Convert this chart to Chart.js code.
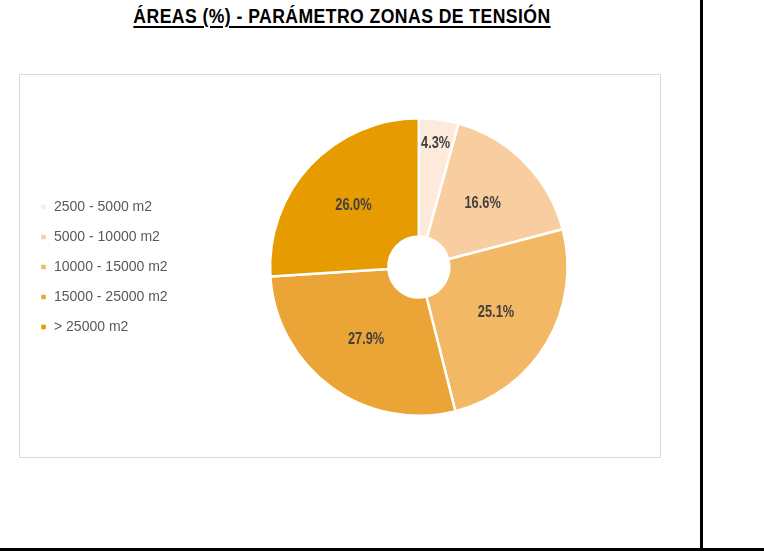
<!DOCTYPE html>
<html>
<head>
<meta charset="utf-8">
<script src="https://cdn.jsdelivr.net/npm/chart.js@4/dist/chart.umd.min.js"></script>
<style>
  html, body { margin: 0; padding: 0; background: #fff; }
  #page { position: relative; width: 764px; height: 558px; overflow: hidden; }
  #title {
    position: absolute; left: 0; top: 5px; width: 684px; text-align: center;
    font-family: "Liberation Sans Narrow", "Arial Narrow", "Liberation Sans", sans-serif;
    font-weight: bold; font-size: 20px; letter-spacing: 0.5px; color: #000;
    transform: scaleX(0.88); transform-origin: 342px 0;
  }
  #title span { text-decoration: underline; text-underline-offset: 3px; }
  #box {
    position: absolute; left: 19px; top: 74px; width: 640px; height: 382px;
    border: 1px solid #d9d9d9;
  }
  #vline { position: absolute; left: 700px; top: 0; width: 2.5px; height: 551px; background: #000; }
  #hline { position: absolute; left: 0; top: 548px; width: 764px; height: 3px; background: #000; }
</style>
</head>
<body>
<div id="page">
  <div id="title"><span>ÁREAS (%) - PARÁMETRO ZONAS DE TENSIÓN</span></div>
  <div id="box"><canvas id="chart" width="640" height="382"></canvas></div>
  <div id="vline"></div>
  <div id="hline"></div>
</div>
<script>
// data
const categories = ['2500 - 5000 m2', '5000 - 10000 m2', '10000 - 15000 m2', '15000 - 25000 m2', '> 25000 m2'];
const shares = [4.3, 16.6, 25.1, 27.9, 26.0];
const sliceColors = ['#fdeada', '#f8cea0', '#f2b866', '#eba536', '#e69b00'];

// percentage labels drawn on the slices (condensed bold look)
const sliceLabels = {
    id: 'sliceLabels',
    afterDatasetsDraw(chart) {
        const ctx = chart.ctx;
        const meta = chart.getDatasetMeta(0);
        meta.data.forEach(function(arc, i) {
            const p = arc.getProps(['x', 'y', 'startAngle', 'endAngle', 'innerRadius', 'outerRadius'], true);
            const mid = (p.startAngle + p.endAngle) / 2;
            // small slices get their label pushed out towards the rim
            const r = shares[i] < 5 ? p.outerRadius * 0.84 : (p.innerRadius + p.outerRadius) / 2;
            const x = p.x + Math.cos(mid) * r;
            const y = p.y + Math.sin(mid) * r;
            ctx.save();
            ctx.translate(x, y);
            ctx.scale(0.8, 1);
            ctx.font = 'bold 16px "Liberation Sans", Arial, sans-serif';
            ctx.fillStyle = '#404040';
            ctx.textAlign = 'center';
            ctx.textBaseline = 'middle';
            ctx.fillText(shares[i].toFixed(1) + '%', 0, 0);
            ctx.restore();
        });
    }
};

new Chart(document.getElementById('chart'), {
    type: 'doughnut',
    data: {
        labels: categories,
        datasets: [{
            data: shares,
            backgroundColor: sliceColors,
            borderColor: '#ffffff',
            borderWidth: 2.5
        }]
    },
    options: {
        responsive: false,
        animation: false,
        cutout: '20.5%',
        layout: { padding: { left: 4, right: 0, top: 42, bottom: 40 } },
        plugins: {
            legend: {
                position: 'left',
                labels: {
                    boxWidth: 7,
                    boxHeight: 7,
                    padding: 16,
                    color: '#595959',
                    font: { family: '"Liberation Sans", Arial, sans-serif', size: 14 }
                }
            },
            tooltip: { enabled: false },
            title: { display: false }
        }
    },
    plugins: [sliceLabels]
});
</script>
</body>
</html>
